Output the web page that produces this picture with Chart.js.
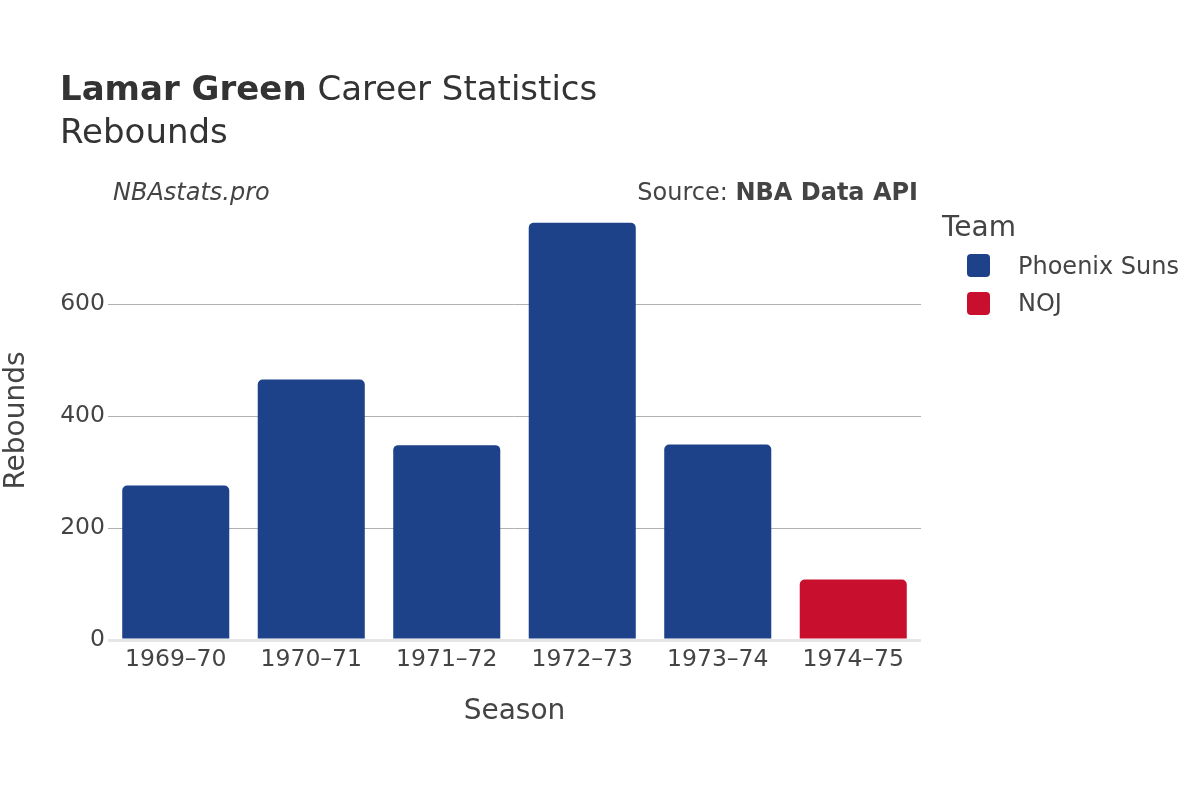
<!DOCTYPE html>
<html>
<head>
<meta charset="utf-8">
<script src="https://cdn.jsdelivr.net/npm/chart.js@4.4.1/dist/chart.umd.min.js"></script>
<style>
body { margin: 0; background: #fff; font-family: "DejaVu Sans", sans-serif; color: #444; }
#wrap { position: relative; width: 1200px; height: 800px; }
#wrap canvas { position: absolute; left: 0; top: 0; }
.t { position: absolute; white-space: nowrap; line-height: 1; }
.sw { position: absolute; width: 23px; height: 23px; border-radius: 4px; }
</style>
</head>
<body>
<div id="wrap">
  <canvas id="rebounds_chart" width="1200" height="800"></canvas>
  <div class="t" style="left:60px;top:71.2px;font-size:34px;color:#333"><b>Lamar Green</b> Career Statistics</div>
  <div class="t" style="left:60px;top:114.2px;font-size:34px;color:#333">Rebounds</div>
  <div class="t" style="left:113px;top:179.5px;font-size:24px;font-style:italic">NBAstats.pro</div>
  <div class="t" style="right:282px;top:179.5px;font-size:24px">Source: <b>NBA Data API</b></div>
  <div class="t" style="left:942px;top:212.5px;font-size:28px">Team</div>
  <div class="sw" style="left:967px;top:254px;background:#1d428a"></div>
  <div class="t" style="left:1018px;top:253.7px;font-size:24px">Phoenix Suns</div>
  <div class="sw" style="left:967px;top:292px;background:#c8102e"></div>
  <div class="t" style="left:1018px;top:291.4px;font-size:24px">NOJ</div>
</div>
<script>
var seasons = ['1969–70', '1970–71', '1971–72', '1972–73', '1973–74', '1974–75'];
var sunsRebounds = [276, 465, 348, 745, 349, null];
var nojRebounds = [null, null, null, null, null, 108];
var yTicks = [0, 200, 400, 600];

const dt = {
    labels: seasons,
    datasets: [
    {
        label: 'Phoenix Suns',
        data: sunsRebounds,
        backgroundColor: '#1d428a',
        borderRadius: 5,
        barPercentage: 0.79,
        categoryPercentage: 1
    },
    {
        label: 'NOJ',
        data: nojRebounds,
        backgroundColor: '#c8102e',
        borderRadius: 5,
        barPercentage: 0.79,
        categoryPercentage: 1
    }
    ]
};

const config_rebounds = {
    type: 'bar',
    data: dt,
    options: {
        responsive: false,
        animation: false,
        layout: { padding: { left: 0, top: 201, right: 279, bottom: 60 } },
        plugins: {
            legend: { display: false },
            tooltip: { enabled: false },
            title: { display: false }
        },
        scales: {
            x: {
                stacked: true,
                grid: { display: false, drawTicks: false },
                border: { display: false },
                ticks: { color: '#444', font: { family: 'DejaVu Sans', size: 23.5 }, padding: 6, maxRotation: 0 },
                title: { display: true, text: 'Season', color: '#444', font: { family: 'DejaVu Sans', size: 28 }, padding: { top: 0, bottom: 11 } },
                afterFit: function(scale) { scale.height = 100; }
            },
            y: {
                stacked: true,
                min: 0,
                max: 784,
                afterBuildTicks: function(scale) {
                    scale.ticks = yTicks.map(function(v) { return { value: v }; });
                },
                grid: {
                    drawTicks: false,
                    color: function(ctx) { return ctx.tick && ctx.tick.value === 0 ? '#e6e6e6' : '#b0b0b0'; },
                    lineWidth: function(ctx) { return ctx.tick && ctx.tick.value === 0 ? 3 : 1; }
                },
                border: { display: false },
                ticks: { color: '#444', font: { family: 'DejaVu Sans', size: 23.5 }, padding: 3 },
                title: { display: true, text: 'Rebounds', color: '#444', font: { family: 'DejaVu Sans', size: 28 }, padding: { top: 0, bottom: 0 } },
                afterFit: function(scale) { scale.width = 108; }
            }
        }
    }
};

const rebounds_chart = new Chart(
    document.getElementById('rebounds_chart'),
    config_rebounds
);
</script>
</body>
</html>
